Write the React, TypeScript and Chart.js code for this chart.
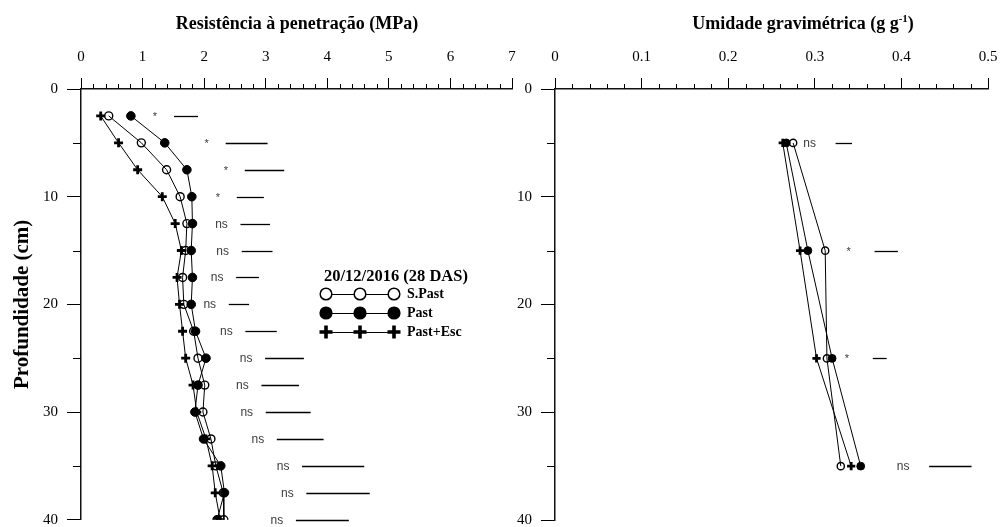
import React, { useEffect, useRef } from 'react';
import { Chart, registerables } from 'chart.js';

Chart.register(...registerables);

// ---------- Resistência à penetração (MPa) ----------
const rpDepth = [2.5, 5, 7.5, 10, 12.5, 15, 17.5, 20, 22.5, 25, 27.5, 30, 32.5, 35, 37.5, 40];
const rpSPast = [0.45, 0.98, 1.39, 1.61, 1.72, 1.70, 1.65, 1.67, 1.83, 1.90, 2.01, 1.98, 2.11, 2.19, 2.31, 2.32];
const rpPast = [0.81, 1.36, 1.72, 1.80, 1.81, 1.79, 1.81, 1.79, 1.86, 2.03, 1.90, 1.85, 1.99, 2.27, 2.33, 2.21];
const rpPastEsc = [0.32, 0.61, 0.92, 1.32, 1.53, 1.63, 1.56, 1.60, 1.65, 1.70, 1.82, 1.88, 2.03, 2.13, 2.18, 2.26];
const rpSig = ['*', '*', '*', '*', 'ns', 'ns', 'ns', 'ns', 'ns', 'ns', 'ns', 'ns', 'ns', 'ns', 'ns', 'ns'];
const rpBarStart = [1.51, 2.35, 2.66, 2.53, 2.59, 2.61, 2.52, 2.40, 2.67, 2.99, 2.93, 3.00, 3.18, 3.59, 3.66, 3.49];
const rpBarEnd = [1.90, 3.03, 3.30, 2.97, 3.07, 3.11, 2.89, 2.73, 3.18, 3.62, 3.54, 3.73, 3.94, 4.60, 4.69, 4.35];

// ---------- Umidade gravimétrica (g g-1) ----------
const ugDepth = [5, 15, 25, 35];
const ugSPast = [0.275, 0.312, 0.314, 0.330];
const ugPast = [0.267, 0.292, 0.320, 0.353];
const ugPastEsc = [0.263, 0.283, 0.302, 0.342];
const ugSig = ['ns', '*', '*', 'ns'];
const ugBarStart = [0.324, 0.369, 0.367, 0.432];
const ugBarEnd = [0.343, 0.396, 0.383, 0.481];

// ---------- Labels ----------
const seriesNames = ['S.Past', 'Past', 'Past+Esc'];
const legendTitle = '20/12/2016 (28 DAS)';
const yTitle = 'Profundidade (cm)';
const rpTitle = 'Resistência à penetração (MPa)';
const ugTitleMain = 'Umidade gravimétrica (g g';
const ugTitleSup = '-1';
const ugTitleEnd = ')';

const SERIF = '"Liberation Serif", "Times New Roman", serif';
const SANS = '"Liberation Sans", Arial, sans-serif';

function pts(xs: number[], ys: number[]) {
  return xs.map((v, i) => ({ x: v, y: ys[i] }));
}

function makeDatasets(sp: number[], p: number[], pe: number[], depth: number[], r: number) {
  const base = { showLine: true, borderColor: '#000', borderWidth: 1, tension: 0 };
  return [
    {
      ...base,
      label: seriesNames[2],
      data: pts(pe, depth),
      pointStyle: 'cross',
      pointRadius: r + 0.5,
      pointBorderWidth: 2.8,
      pointBorderColor: '#000',
      pointBackgroundColor: '#000',
    },
    {
      ...base,
      label: seriesNames[1],
      data: pts(p, depth),
      pointStyle: 'circle',
      pointRadius: r + 0.3,
      pointBorderWidth: 1,
      pointBorderColor: '#000',
      pointBackgroundColor: '#000',
    },
    {
      ...base,
      label: seriesNames[0],
      data: pts(sp, depth),
      pointStyle: 'circle',
      pointRadius: r,
      pointBorderWidth: 1.4,
      pointBorderColor: '#000',
      pointBackgroundColor: 'rgba(0,0,0,0)',
    },
  ];
}

function annotPlugin(depth: number[], sig: string[], s: number[], e: number[], gap: number) {
  return {
    id: 'annot',
    afterDatasetsDraw(chart: any) {
      const { ctx, scales } = chart;
      const x = scales.x;
      const y = scales.y;
      ctx.save();
      for (let i = 0; i < depth.length; i++) {
        const py = Math.round(y.getPixelForValue(depth[i])) + 0.5;
        const x0 = x.getPixelForValue(s[i]);
        const x1 = x.getPixelForValue(e[i]);
        ctx.strokeStyle = '#000';
        ctx.lineWidth = 1.3;
        ctx.beginPath();
        ctx.moveTo(x0, py);
        ctx.lineTo(x1, py);
        ctx.stroke();
        ctx.fillStyle = '#3a3a3a';
        ctx.textAlign = 'center';
        ctx.textBaseline = 'middle';
        if (sig[i] === '*') {
          ctx.font = '11px ' + SANS;
          ctx.fillText('*', x0 - gap, py);
        } else {
          ctx.font = '12px ' + SANS;
          ctx.fillText(sig[i], x0 - gap, py);
        }
      }
      ctx.restore();
    },
  };
}

function minorTicksPlugin(xStep: number, xMax: number, majorX: number, yMinor: number[]) {
  return {
    id: 'minorTicks',
    afterDraw(chart: any) {
      const { ctx, chartArea, scales } = chart;
      const x = scales.x;
      const y = scales.y;
      ctx.save();
      ctx.strokeStyle = '#000';
      ctx.lineWidth = 1;
      ctx.beginPath();
      const n = Math.round(xMax / xStep);
      const per = Math.round(majorX / xStep);
      for (let k = 1; k < n; k++) {
        if (k % per === 0) continue;
        const px = Math.round(x.getPixelForValue(k * xStep)) + 0.5;
        ctx.moveTo(px, chartArea.top);
        ctx.lineTo(px, chartArea.top - 5);
      }
      for (const v of yMinor) {
        const py = Math.round(y.getPixelForValue(v)) + 0.5;
        ctx.moveTo(chartArea.left, py);
        ctx.lineTo(chartArea.left - 8, py);
      }
      ctx.stroke();
      ctx.restore();
    },
  };
}

function titlePlugin(draw: (ctx: CanvasRenderingContext2D) => void) {
  return {
    id: 'panelTitle',
    afterDraw(chart: any) {
      const ctx = chart.ctx;
      ctx.save();
      draw(ctx);
      ctx.restore();
    },
  };
}

const legendPlugin = {
  id: 'customLegend',
  afterDraw(chart: any) {
    const ctx = chart.ctx as CanvasRenderingContext2D;
    ctx.save();
    ctx.fillStyle = '#000';
    ctx.font = 'bold 16.5px ' + SERIF;
    ctx.textAlign = 'left';
    ctx.textBaseline = 'middle';
    ctx.fillText(legendTitle, 324, 277);
    const xs = [326, 360, 394];
    const rows = [294, 313, 332];
    rows.forEach((ry, idx) => {
      ctx.strokeStyle = '#000';
      ctx.lineWidth = 1;
      ctx.beginPath();
      ctx.moveTo(xs[0], ry + 0.5);
      ctx.lineTo(xs[2], ry + 0.5);
      ctx.stroke();
      xs.forEach((cx) => {
        if (idx === 0) {
          ctx.beginPath();
          ctx.arc(cx, ry, 5.8, 0, Math.PI * 2);
          ctx.fillStyle = '#fff';
          ctx.fill();
          ctx.lineWidth = 1.5;
          ctx.strokeStyle = '#000';
          ctx.stroke();
        } else if (idx === 1) {
          ctx.beginPath();
          ctx.arc(cx, ry, 6.6, 0, Math.PI * 2);
          ctx.fillStyle = '#000';
          ctx.fill();
        } else {
          ctx.lineWidth = 3.6;
          ctx.strokeStyle = '#000';
          ctx.beginPath();
          ctx.moveTo(cx - 6.5, ry);
          ctx.lineTo(cx + 6.5, ry);
          ctx.moveTo(cx, ry - 6.5);
          ctx.lineTo(cx, ry + 6.5);
          ctx.stroke();
        }
      });
      ctx.fillStyle = '#000';
      ctx.font = 'bold 14px ' + SERIF;
      ctx.textAlign = 'left';
      ctx.textBaseline = 'middle';
      ctx.fillText(seriesNames[idx], 407, ry);
    });
    ctx.restore();
  },
};

function buildScales(opts: {
  xMax: number;
  xStep: number;
  yWidth: number;
  yTitle?: string;
  fmt: (v: number) => string;
}) {
  return {
    x: {
      type: 'linear',
      position: 'top',
      min: 0,
      max: opts.xMax,
      afterFit: (s: any) => {
        s.height = 89;
        s.paddingLeft = 0;
        s.paddingRight = 0;
      },
      ticks: {
        stepSize: opts.xStep,
        color: '#000',
        padding: 12,
        font: { family: SERIF, size: 15 },
        callback: (v: any) => opts.fmt(Number(v)),
      },
      grid: { drawOnChartArea: false, drawTicks: true, tickLength: 11, color: '#000', lineWidth: 1 },
      border: { display: true, color: '#111', width: 1.5 },
    },
    y: {
      type: 'linear',
      position: 'left',
      reverse: true,
      min: 0,
      max: 40,
      afterFit: (s: any) => {
        s.width = opts.yWidth;
        s.paddingTop = 0;
        s.paddingBottom = 0;
      },
      ticks: {
        stepSize: 10,
        color: '#000',
        padding: 9,
        font: { family: SERIF, size: 15 },
      },
      grid: { drawOnChartArea: false, drawTicks: true, tickLength: 14, color: '#000', lineWidth: 1 },
      border: { display: true, color: '#111', width: 1.5 },
      title: opts.yTitle
        ? {
            display: true,
            text: opts.yTitle,
            color: '#000',
            font: { family: SERIF, size: 21, weight: 'bold' },
            padding: { top: 10, bottom: 0 },
          }
        : { display: false },
    },
  };
}

function Panel(props: { left: number; width: number; config: any }) {
  const ref = useRef<HTMLCanvasElement | null>(null);
  useEffect(() => {
    if (!ref.current) return;
    const chart = new Chart(ref.current, props.config);
    return () => chart.destroy();
  }, []);
  return (
    <canvas
      ref={ref}
      width={props.width}
      height={527}
      style={{ position: 'absolute', left: props.left, top: 0, width: props.width, height: 527 }}
    />
  );
}

export default function App() {
  const leftConfig = {
    type: 'scatter',
    data: { datasets: makeDatasets(rpSPast, rpPast, rpPastEsc, rpDepth, 4) },
    options: {
      responsive: false,
      animation: false,
      devicePixelRatio: 1,
      layout: { padding: { left: 0, top: 0, right: 28, bottom: 7 } },
      plugins: { legend: { display: false }, tooltip: { enabled: false } },
      scales: buildScales({
        xMax: 7,
        xStep: 1,
        yWidth: 81,
        yTitle: yTitle,
        fmt: (v) => String(Math.round(v)),
      }),
    },
    plugins: [
      annotPlugin(rpDepth, rpSig, rpBarStart, rpBarEnd, 19),
      minorTicksPlugin(0.2, 7, 1, [5, 15, 25, 35]),
      legendPlugin,
      titlePlugin((ctx) => {
        ctx.fillStyle = '#000';
        ctx.font = 'bold 18px ' + SERIF;
        ctx.textAlign = 'center';
        ctx.textBaseline = 'middle';
        ctx.fillText(rpTitle, 297, 24);
      }),
    ],
  };

  const rightLeft = 500;
  const rightConfig = {
    type: 'scatter',
    data: { datasets: makeDatasets(ugSPast, ugPast, ugPastEsc, ugDepth, 3.6) },
    options: {
      responsive: false,
      animation: false,
      devicePixelRatio: 1,
      layout: { padding: { left: 0, top: 0, right: 12, bottom: 7 } },
      plugins: { legend: { display: false }, tooltip: { enabled: false } },
      scales: buildScales({
        xMax: 0.5,
        xStep: 0.1,
        yWidth: 55,
        fmt: (v) => String(Math.round(v * 10) / 10),
      }),
    },
    plugins: [
      annotPlugin(ugDepth, ugSig, ugBarStart, ugBarEnd, 26),
      minorTicksPlugin(0.02, 0.5, 0.1, [5, 15, 25, 35]),
      titlePlugin((ctx) => {
        ctx.fillStyle = '#000';
        ctx.textBaseline = 'middle';
        ctx.textAlign = 'left';
        ctx.font = 'bold 18px ' + SERIF;
        const w1 = ctx.measureText(ugTitleMain).width;
        ctx.font = 'bold 11px ' + SERIF;
        const w2 = ctx.measureText(ugTitleSup).width;
        ctx.font = 'bold 18px ' + SERIF;
        const w3 = ctx.measureText(ugTitleEnd).width;
        const total = w1 + w2 + w3;
        const cx = 803 - rightLeft;
        let xx = cx - total / 2;
        ctx.fillText(ugTitleMain, xx, 24);
        xx += w1;
        ctx.font = 'bold 11px ' + SERIF;
        ctx.fillText(ugTitleSup, xx, 19);
        xx += w2;
        ctx.font = 'bold 18px ' + SERIF;
        ctx.fillText(ugTitleEnd, xx, 24);
      }),
    ],
  };

  return (
    <div style={{ position: 'absolute', left: 0, top: 0, width: 1000, height: 527, background: '#fff' }}>
      <Panel left={0} width={540} config={leftConfig} />
      <Panel left={rightLeft} width={500} config={rightConfig} />
    </div>
  );
}
